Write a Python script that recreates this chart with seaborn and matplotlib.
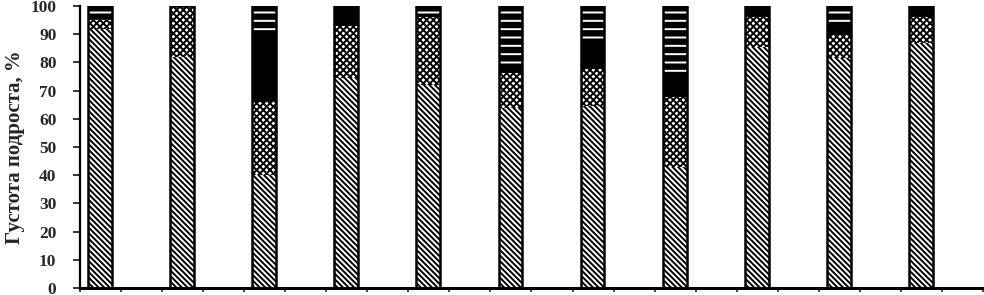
import matplotlib
matplotlib.use('Agg')
import matplotlib.pyplot as plt
import numpy as np
import seaborn as sns

# values, % of undergrowth density per plot (bottom -> top)
plots = list(range(11))
seg_diag = [92, 82, 40, 74.5, 72, 63.8, 64.5, 43, 85.5, 81.6, 86.9]
seg_check = [3, 18, 26, 18.5, 24, 12.4, 13, 24.7, 10.6, 8.1, 9.2]
seg_dots = [0, 0, 24, 7, 0, 2.5, 10, 9, 3.9, 4.3, 3.9]
seg_stripes = [5, 0, 10, 0, 4, 21.3, 12.5, 23.3, 0, 6, 0]
y_ticks = [0, 10, 20, 30, 40, 50, 60, 70, 80, 90, 100]

sns.set_style('ticks')
plt.rcParams['font.family'] = ['Liberation Serif', 'DejaVu Serif']
plt.rcParams['font.weight'] = 'bold'
plt.rcParams['hatch.linewidth'] = 1.4

fig = plt.figure(figsize=(9.84, 2.95), dpi=100)
ax = fig.add_axes([0.0813, 0.0237, 0.918, 0.956])

x = np.array(plots)
w = 0.29
bottom = np.zeros(len(x))

# diagonal hatch, white face
ax.bar(x, seg_diag, w, bottom=bottom, color='white', edgecolor='black',
       hatch='\\' * 6, linewidth=0)
bottom += seg_diag
# checker
ax.bar(x, seg_check, w, bottom=bottom, color='white', edgecolor='black',
       hatch='x' * 5, linewidth=0)
bottom += seg_check
# black with a few white specks
ax.bar(x, seg_dots, w, bottom=bottom, color='black', edgecolor='black',
       linewidth=0)
bottom += seg_dots
# black with white stripes
ax.bar(x, seg_stripes, w, bottom=bottom, color='black', edgecolor='white',
       hatch='--', linewidth=0)
bottom += seg_stripes

# outline of the whole column
ax.bar(x, bottom, w, fill=False, edgecolor='black', linewidth=1.8)

ax.set_ylim(0, 100)
ax.set_xlim(-0.244, 10.76)
ax.set_yticks(y_ticks)
ax.set_yticklabels([str(v) for v in y_ticks], fontsize=12.5, fontweight='bold')
ax.set_xticks(np.arange(-0.244, 10.76, 0.5))
ax.set_xticklabels([])
ax.tick_params(axis='y', direction='out', length=5, width=1.3, pad=12)
ax.tick_params(axis='x', direction='out', length=3, width=1.2)
ax.set_ylabel('Густота подроста, %', fontsize=15, fontweight='bold', labelpad=4)

sns.despine(ax=ax)
ax.spines['left'].set_linewidth(1.6)
ax.spines['bottom'].set_linewidth(2.2)
ax.spines['left'].set_color('black')
ax.spines['bottom'].set_color('black')

fig.savefig('out.png', dpi=100)
